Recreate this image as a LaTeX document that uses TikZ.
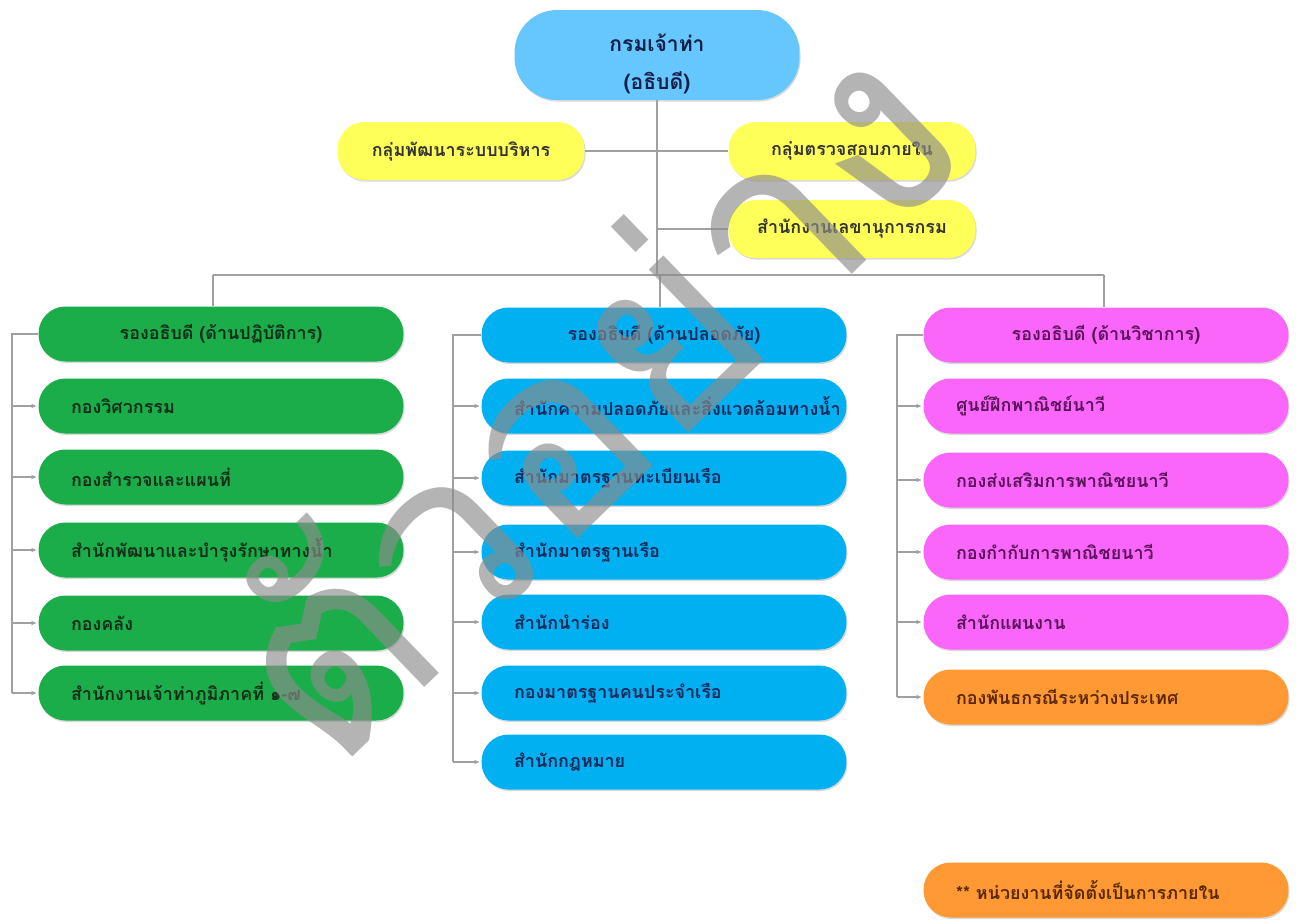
\documentclass[tikz,border=0pt]{standalone}
\usepackage{fontspec}
\newfontfamily\thaifont[Script=Thai]{Loma}
\usepackage{tikz}
\usetikzlibrary{arrows.meta,shadows}
\usepackage{xcolor}
\definecolor{bossblue}{RGB}{102,199,255}
\definecolor{staffyellow}{RGB}{255,255,90}
\definecolor{opsgreen}{RGB}{26,173,74}
\definecolor{safeblue}{RGB}{0,176,240}
\definecolor{acadpink}{RGB}{250,102,250}
\definecolor{intlorange}{RGB}{255,153,51}
\definecolor{linkgray}{RGB}{160,160,160}

\tikzset{
  unit/.style={rounded corners=0.54cm, minimum height=1.1cm, inner ysep=0pt,
    font=\thaifont\bfseries\fontsize{10.2}{13}\selectfont,
    drop shadow={opacity=0.3, shadow xshift=0.6pt, shadow yshift=-0.9pt}},
  headbox/.style={unit, align=center, text width=6cm, inner xsep=0.65cm},
  subbox/.style={unit, align=left, text width=6cm, inner xsep=0.65cm},
  staffbox/.style={unit, fill=staffyellow, text=black!80, minimum width=4.94cm, minimum height=1.16cm},
  link/.style={draw=linkgray, line width=0.6pt},
  feed/.style={link, -{Stealth[length=3pt,width=2.5pt]}, shorten >=1pt}
}

\begin{document}
\begin{tikzpicture}[x=0.02cm, y=-0.02cm]
  \useasboundingbox (0,0) rectangle (1298,920);

  \node[unit, fill=bossblue, text={rgb,255:red,20;green,30;blue,70}, minimum width=5.7cm,
    minimum height=1.8cm, rounded corners=0.85cm, align=center,
    font=\thaifont\bfseries\fontsize{12}{21.5}\selectfont] (boss) at (657,55) {\rule{0pt}{20pt}กรมเจ้าท่า\\(อธิบดี)};

  \node[staffbox] (admin) at (461,151) {กลุ่มพัฒนาระบบบริหาร};
  \node[staffbox] (audit) at (852,151) {กลุ่มตรวจสอบภายใน};
  \node[staffbox] (secretary) at (852,229) {สำนักงานเลขานุการกรม};

  \node[headbox, fill=opsgreen, text={rgb,255:red,20;green,45;blue,25}] (opsHead) at (221,334) {รองอธิบดี (ด้านปฏิบัติการ)};
  \node[subbox, fill=opsgreen, text={rgb,255:red,20;green,45;blue,25}] (ops1) at (221,406) {กองวิศวกรรม};
  \node[subbox, fill=opsgreen, text={rgb,255:red,20;green,45;blue,25}] (ops2) at (221,477) {กองสำรวจและแผนที่};
  \node[subbox, fill=opsgreen, text={rgb,255:red,20;green,45;blue,25}] (ops3) at (221,550) {สำนักพัฒนาและบำรุงรักษาทางน้ำ};
  \node[subbox, fill=opsgreen, text={rgb,255:red,20;green,45;blue,25}] (ops4) at (221,623) {กองคลัง};
  \node[subbox, fill=opsgreen, text={rgb,255:red,20;green,45;blue,25}] (ops5) at (221,693) {สำนักงานเจ้าท่าภูมิภาคที่ ๑-๗};

  \node[headbox, fill=safeblue, text={rgb,255:red,25;green,40;blue,90}] (safeHead) at (664,335) {รองอธิบดี (ด้านปลอดภัย)};
  \node[subbox, fill=safeblue, text={rgb,255:red,25;green,40;blue,90}] (safe1) at (664,406) {สำนักความปลอดภัยและสิ่งแวดล้อมทางน้ำ};
  \node[subbox, fill=safeblue, text={rgb,255:red,25;green,40;blue,90}] (safe2) at (664,478) {สำนักมาตรฐานทะเบียนเรือ};
  \node[subbox, fill=safeblue, text={rgb,255:red,25;green,40;blue,90}] (safe3) at (664,552) {สำนักมาตรฐานเรือ};
  \node[subbox, fill=safeblue, text={rgb,255:red,25;green,40;blue,90}] (safe4) at (664,622) {สำนักนำร่อง};
  \node[subbox, fill=safeblue, text={rgb,255:red,25;green,40;blue,90}] (safe5) at (664,693) {กองมาตรฐานคนประจำเรือ};
  \node[subbox, fill=safeblue, text={rgb,255:red,25;green,40;blue,90}] (safe6) at (664,762) {สำนักกฎหมาย};

  \node[headbox, fill=acadpink, text={rgb,255:red,90;green,20;blue,90}] (acadHead) at (1106,335) {รองอธิบดี (ด้านวิชาการ)};
  \node[subbox, fill=acadpink, text={rgb,255:red,90;green,20;blue,90}] (acad1) at (1106,406) {ศูนย์ฝึกพาณิชย์นาวี};
  \node[subbox, fill=acadpink, text={rgb,255:red,90;green,20;blue,90}] (acad2) at (1106,480) {กองส่งเสริมการพาณิชยนาวี};
  \node[subbox, fill=acadpink, text={rgb,255:red,90;green,20;blue,90}] (acad3) at (1106,552) {กองกำกับการพาณิชยนาวี};
  \node[subbox, fill=acadpink, text={rgb,255:red,90;green,20;blue,90}] (acad4) at (1106,622) {สำนักแผนงาน};
  \node[subbox, fill=intlorange, text={rgb,255:red,90;green,40;blue,0}] (acad5) at (1106,697) {กองพันธกรณีระหว่างประเทศ};

  \node[subbox, fill=intlorange, text={rgb,255:red,90;green,40;blue,0}] (note) at (1106,890) {** หน่วยงานที่จัดตั้งเป็นการภายใน};

  \coordinate (busL) at (213,275);
  \coordinate (busM) at (657,275);
  \coordinate (busR) at (1104,275);
  \coordinate (spineL) at (12,0);
  \coordinate (spineM) at (453,0);
  \coordinate (spineR) at (897,0);

  \draw[link] (boss.south) -- (busM);
  \draw[link] (admin.east) -- (audit.west);
  \draw[link] (boss.south |- secretary.west) -- (secretary.west);
  \draw[link] (busL) -- (busR);
  \draw[link] (busL) -- (busL |- opsHead.north);
  \draw[link] (660,275) -- (660,0 |- safeHead.north);
  \draw[link] (busR) -- (busR |- acadHead.north);

  \draw[link] (opsHead.west) -- (spineL |- opsHead.west) -- (spineL |- ops5.west);
  \draw[link] (safeHead.west) -- (spineM |- safeHead.west) -- (spineM |- safe6.west);
  \draw[link] (acadHead.west) -- (spineR |- acadHead.west) -- (spineR |- acad5.west);
  \foreach \i in {1,...,5} \draw[feed] (spineL |- ops\i.west) -- (ops\i.west);
  \foreach \i in {1,...,6} \draw[feed] (spineM |- safe\i.west) -- (safe\i.west);
  \foreach \i in {1,...,5} \draw[feed] (spineR |- acad\i.west) -- (acad\i.west);

  \node[rotate=44, text=black!45, opacity=0.65, font=\thaifont\fontsize{148}{148}\selectfont] (wmark) at (582,392) {ตัวอย่าง};
\end{tikzpicture}
\end{document}
